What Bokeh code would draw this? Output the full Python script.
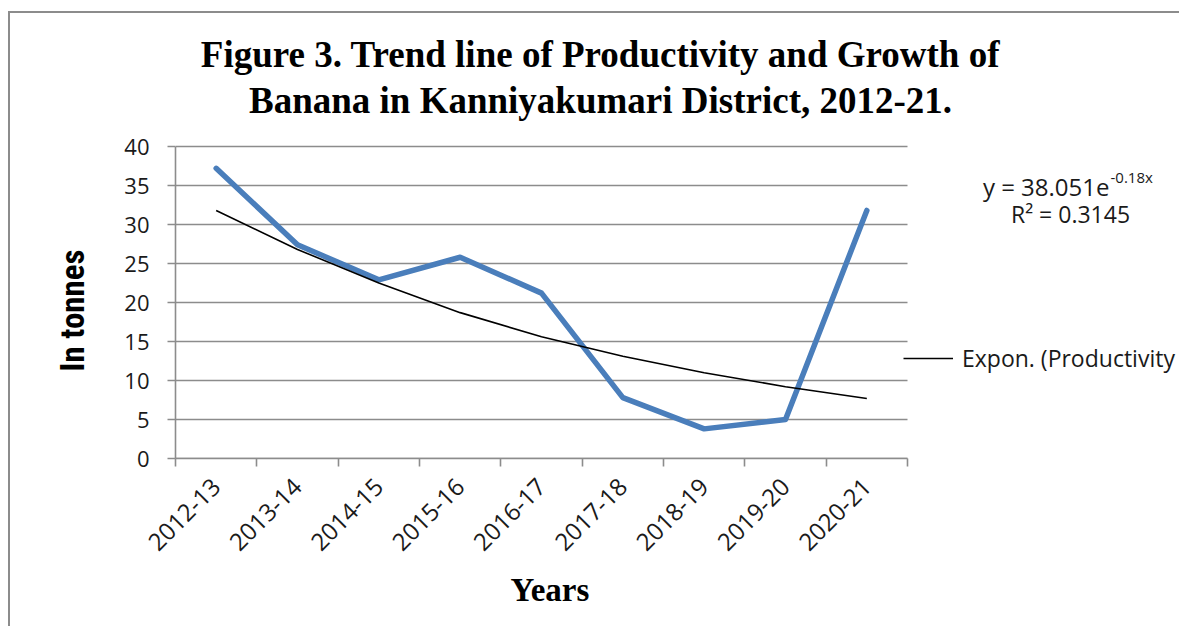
import math
from bokeh.plotting import figure
from bokeh.models import Range1d, FixedTicker, Label, Legend, LegendItem, Title
from bokeh.embed import file_html
from bokeh.resources import INLINE

# ---- data ----
years = ["2012-13", "2013-14", "2014-15", "2015-16", "2016-17",
         "2017-18", "2018-19", "2019-20", "2020-21"]
productivity = [37.2, 27.4, 22.9, 25.8, 21.2, 7.8, 3.8, 5.0, 31.8]
trend_expon = [31.8, 26.8, 22.5, 18.7, 15.6, 13.1, 11.0, 9.2, 7.7]
y_ticks = [0, 5, 10, 15, 20, 25, 30, 35, 40]

title_lines = ["Figure 3. Trend line of Productivity and Growth of",
               "Banana in Kanniyakumari District, 2012-21."]
equation_main = "y = 38.051e"
equation_sup = "-0.18x"
r_squared = "R\u00b2 = 0.3145"
legend_label = "Expon. (Productivity"
x_label = "Years"
y_label = "In tonnes"

# ---- layout / style ----
GRID = "#8c8c8c"
TXT = "#1a1a1a"
SANS = "'Open Sans'"
W, H = 1179, 626
PLOT_LEFT, PLOT_BOTTOM = 175, 458          # pixel position of the plot area corner
PLOT_W, PLOT_H = 732, 312                  # size of the chart's plot area
Y_MAX = 40

n = len(years)
px_per_x = PLOT_W / n
px_per_y = PLOT_H / Y_MAX
x_end = 0.5 + (W - PLOT_LEFT) / px_per_x
y_end = PLOT_BOTTOM / px_per_y

xpos = list(range(1, n + 1))

p = figure(width=W, height=H, output_backend="svg", toolbar_location=None,
           x_range=Range1d(0.5, x_end), y_range=Range1d(0, y_end),
           min_border_left=PLOT_LEFT, min_border_right=0,
           min_border_top=0, min_border_bottom=H - PLOT_BOTTOM)
p.title.text = ""
p.background_fill_color = None
p.border_fill_color = None
p.outline_line_color = None
p.styles = {
    "background": ("linear-gradient(#8c8c8c,#8c8c8c) 8px 11px / 2px 100% no-repeat, "
                   "linear-gradient(#8c8c8c,#8c8c8c) 8px 11px / 100% 2px no-repeat, white")
}

# grid lines (limited to the plot area)
p.segment(x0=[0.5] * len(y_ticks), x1=[n + 0.5] * len(y_ticks), y0=y_ticks, y1=y_ticks,
          line_color=GRID, line_width=1.6)
p.xgrid.visible = False
p.ygrid.visible = False

p.line(xpos, productivity, line_color="#4a7ebb", line_width=5.5,
       line_join="round", line_cap="round")
trend_r = p.line(xpos, trend_expon, line_color="black", line_width=1.6)

# x axis
p.xaxis.bounds = (0.5, n + 0.5)
p.xaxis.ticker = FixedTicker(ticks=xpos, minor_ticks=[i + 0.5 for i in range(n + 1)])
p.xaxis.major_label_overrides = {i: y for i, y in zip(xpos, years)}
p.xaxis.major_label_orientation = math.pi / 4
p.xaxis.major_tick_out = 0
p.xaxis.major_tick_in = 0
p.xaxis.minor_tick_out = 8
p.xaxis.minor_tick_in = 0
p.xaxis.minor_tick_line_color = GRID
p.xaxis.minor_tick_line_width = 1.6
p.xaxis.axis_line_color = GRID
p.xaxis.axis_line_width = 1.6
p.xaxis.major_label_standoff = 16
p.xaxis.major_label_text_font = SANS
p.xaxis.major_label_text_font_size = "24px"
p.xaxis.major_label_text_color = TXT

# y axis
p.yaxis.bounds = (0, Y_MAX)
p.yaxis.ticker = FixedTicker(ticks=y_ticks)
p.yaxis.minor_tick_line_color = None
p.yaxis.major_tick_out = 8
p.yaxis.major_tick_in = 0
p.yaxis.major_tick_line_color = GRID
p.yaxis.major_tick_line_width = 1.6
p.yaxis.axis_line_color = GRID
p.yaxis.axis_line_width = 1.6
p.yaxis.major_label_standoff = 18
p.yaxis.major_label_text_font = SANS
p.yaxis.major_label_text_font_size = "22px"
p.yaxis.major_label_text_color = TXT

# axis titles (as side-panel titles so they can be placed like the reference)
p.add_layout(Title(text=x_label, align="left", offset=335, standoff=17,
                   text_font="'Liberation Serif'", text_font_style="bold",
                   text_font_size="33px", text_color="black"), "below")
p.add_layout(Title(text=y_label, align="left", offset=87, standoff=60,
                   text_font="'Liberation Sans Narrow', 'Roboto Condensed', 'Liberation Sans', sans-serif",
                   text_font_style="bold", text_font_size="33px", text_color="black"), "left")

# chart title (two centred lines)
for txt, yy in zip(title_lines, [404, 358]):
    p.add_layout(Label(x=425, y=yy, x_units="screen", y_units="screen", text=txt,
                       text_align="center", text_baseline="alphabetic",
                       text_font="'Liberation Serif'", text_font_style="bold",
                       text_font_size="37px", text_color="black"))

# trend-line equation
p.add_layout(Label(x=934, y=272, x_units="screen", y_units="screen", text=equation_main,
                   text_align="right", text_baseline="alphabetic",
                   text_font=SANS, text_font_size="24px", text_color=TXT))
p.add_layout(Label(x=935, y=282, x_units="screen", y_units="screen", text=equation_sup,
                   text_align="left", text_baseline="alphabetic",
                   text_font=SANS, text_font_size="15px", text_color=TXT))
p.add_layout(Label(x=895, y=245, x_units="screen", y_units="screen", text=r_squared,
                   text_align="center", text_baseline="alphabetic",
                   text_font=SANS, text_font_size="23px", text_color=TXT))

# legend
legend = Legend(items=[LegendItem(label=legend_label, renderers=[trend_r])],
                location=(728, 84), glyph_width=50, glyph_height=20,
                label_standoff=9, padding=0, margin=0, spacing=0,
                border_line_alpha=0, background_fill_alpha=0,
                label_text_font=SANS, label_text_font_size="23px",
                label_text_color=TXT)
p.add_layout(legend)

open("out.html", "w").write(file_html(p, INLINE))
